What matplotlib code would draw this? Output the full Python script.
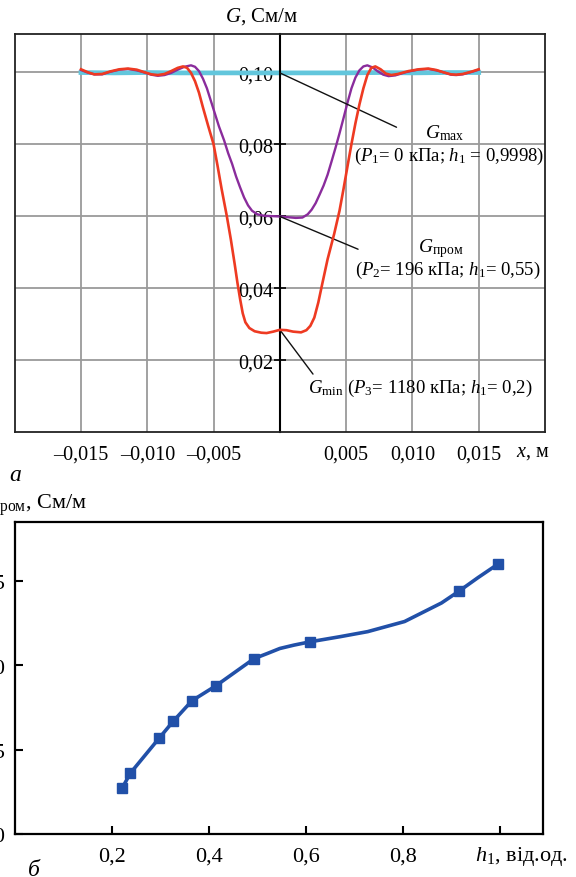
import numpy as np
import matplotlib
matplotlib.use("Agg")
import matplotlib.pyplot as plt
from matplotlib.lines import Line2D
from matplotlib.ticker import FuncFormatter

plt.rcParams['font.family'] = ['Liberation Serif', 'DejaVu Serif']
plt.rcParams['mathtext.fontset'] = 'custom'
plt.rcParams['mathtext.rm'] = 'Liberation Serif'
plt.rcParams['mathtext.it'] = 'Liberation Serif:italic'
plt.rcParams['mathtext.bf'] = 'Liberation Serif:bold'

# --- panel a: G(x) profiles ---
x_max = [-0.0150, -0.0125, -0.0100, -0.0075, -0.0050, -0.0025, 0.0,
         0.0025, 0.0050, 0.0075, 0.0100, 0.0125, 0.0150]
g_max = [0.0999, 0.0998, 0.0999, 0.0998, 0.0998, 0.0998, 0.0998,
         0.0998, 0.0998, 0.0999, 0.0998, 0.0999, 0.0999]

x_mid = [-0.0150, -0.0145, -0.0140, -0.0134, -0.0128, -0.0121, -0.01145, -0.0108,
         -0.0103, -0.0097, -0.0092, -0.0087, -0.0082, -0.0077, -0.0072, -0.0067,
         -0.0064, -0.0061, -0.0058, -0.0055, -0.0052, -0.0049, -0.0046, -0.0042,
         -0.0039, -0.0036, -0.0033, -0.0030, -0.0027, -0.0024, -0.0021, -0.0017,
         -0.0012, -0.0006, 0.0, 0.0006, 0.0012, 0.0017, 0.0021, 0.0024, 0.0027,
         0.0030, 0.0033, 0.0036, 0.0039, 0.0042, 0.0045, 0.0048, 0.0051, 0.0054,
         0.0057, 0.0060, 0.0063, 0.0066, 0.0070, 0.0074, 0.0078, 0.0082, 0.0087,
         0.0095, 0.0104, 0.0112, 0.0118, 0.0124, 0.0129, 0.0133, 0.0138, 0.0145, 0.0150]
g_mid = [0.1006, 0.0999, 0.0994, 0.0994, 0.1001, 0.1007, 0.1009, 0.1005,
         0.1000, 0.0993, 0.0990, 0.0992, 0.0998, 0.1007, 0.1015, 0.1019,
         0.1015, 0.1003, 0.0982, 0.0955, 0.0920, 0.0885, 0.0850, 0.0810,
         0.0775, 0.0745, 0.0710, 0.0680, 0.0652, 0.0630, 0.0615, 0.0605,
         0.0601, 0.0600, 0.0599, 0.0597, 0.0595, 0.0596, 0.0605, 0.0618, 0.0636,
         0.0660, 0.0685, 0.0715, 0.0752, 0.0790, 0.0830, 0.0872, 0.0915, 0.0955,
         0.0985, 0.1005, 0.1016, 0.1019, 0.1013, 0.1002, 0.0993, 0.0989, 0.0991,
         0.1000, 0.1007, 0.1009, 0.1005, 0.0999, 0.0993, 0.0992, 0.0994, 0.1001, 0.1007]

x_min = [-0.0150, -0.0145, -0.0140, -0.0134, -0.0128, -0.0121, -0.01145, -0.0108,
         -0.0103, -0.0097, -0.0092, -0.0087, -0.0082, -0.0077, -0.0073, -0.0070,
         -0.0067, -0.0064, -0.0061, -0.0058, -0.0054, -0.0050, -0.0047, -0.0044,
         -0.0040, -0.0037, -0.0034, -0.0032, -0.0030, -0.0028, -0.0026, -0.0023,
         -0.0019, -0.0014, -0.0010, -0.0005, 0.0, 0.0005, 0.0010, 0.0016, 0.0020,
         0.0023, 0.0026, 0.0029, 0.0032, 0.0036, 0.0041, 0.0045, 0.0048, 0.0051,
         0.0054, 0.0057, 0.0060, 0.0063, 0.0066, 0.0069, 0.0072, 0.0076, 0.0080,
         0.0084, 0.0089, 0.0097, 0.0105, 0.0112, 0.0118, 0.0124, 0.0129, 0.0133,
         0.0138, 0.0145, 0.0150]
g_min = [0.1008, 0.1000, 0.0994, 0.0995, 0.1002, 0.1008, 0.1010, 0.1007,
         0.1001, 0.0994, 0.0992, 0.0995, 0.1003, 0.1012, 0.1016, 0.1012,
         0.0998, 0.0975, 0.0943, 0.0902, 0.0850, 0.0800, 0.0740, 0.0677,
         0.0600, 0.0536, 0.0465, 0.0415, 0.0370, 0.0330, 0.0305, 0.0289,
         0.0280, 0.0276, 0.0275, 0.0279, 0.0284, 0.0283, 0.0279, 0.0277, 0.0283,
         0.0295, 0.0318, 0.0360, 0.0412, 0.0480, 0.0551, 0.0615, 0.0675, 0.0738,
         0.0800, 0.0858, 0.0910, 0.0955, 0.0992, 0.1012, 0.1016, 0.1008, 0.0996,
         0.0992, 0.0995, 0.1003, 0.1008, 0.1010, 0.1006, 0.0999, 0.0994, 0.0993,
         0.0995, 0.1002, 0.1008]

x_ticks_a = [-0.015, -0.010, -0.005, 0.005, 0.010, 0.015]
x_labels_a = ['–0,015', '–0,010', '–0,005', '0,005', '0,010', '0,015']
y_ticks_a = [0.02, 0.04, 0.06, 0.08, 0.10]

# --- panel б: G_пром(h1) ---
h_pts = [0.221, 0.238, 0.298, 0.327, 0.365, 0.415, 0.493, 0.609, 0.915, 0.995]
g_pts = [0.0527, 0.0536, 0.0557, 0.0567, 0.0579, 0.0588, 0.0604, 0.0614, 0.0644, 0.0660]
h_line = [0.221, 0.238, 0.298, 0.327, 0.365, 0.415, 0.493, 0.520, 0.546, 0.575, 0.609,
          0.670, 0.727, 0.803, 0.879, 0.915, 0.954, 0.995]
g_line = [0.0527, 0.0536, 0.0557, 0.0567, 0.0579, 0.0588, 0.0604, 0.0607, 0.0610, 0.0612,
          0.0614, 0.0617, 0.0620, 0.0626, 0.0637, 0.0644, 0.0652, 0.0660]
x_ticks_b = [0.2, 0.4, 0.6, 0.8, 1.0]
x_labels_b = ['0,2', '0,4', '0,6', '0,8', '']
y_ticks_b = [0.050, 0.055, 0.060, 0.065]

W, H = 576, 878
fig = plt.figure(figsize=(W / 100, H / 100), dpi=100)

def fx(px):
    return px / W

def fy(py):
    return 1 - py / H

# ---------------- top panel ----------------
ax = fig.add_axes([0.0255, 0.5068, 0.9207, 0.4533])
ax.set_xlim(-0.02, 0.02)
ax.set_ylim(0, 0.1106)

for xv in x_ticks_a:
    ax.axvline(xv, color='#9a9a9a', lw=1.3, zorder=1)
for yv in y_ticks_a:
    ax.axhline(yv, color='#9a9a9a', lw=1.3, zorder=1)

ax.plot(x_max, g_max, color='#62c6dc', lw=3.4, zorder=2)
ax.plot(x_mid, g_mid, color='#8a2c9c', lw=1.7, zorder=3)
ax.plot(x_min, g_min, color='#ee3a22', lw=1.9, zorder=4)

ax.spines['left'].set_position(('data', 0))
ax.spines['left'].set_linewidth(1.5)
for s in ['top', 'right', 'bottom']:
    ax.spines[s].set_linewidth(1.3)
    ax.spines[s].set_color('#222222')
ax.add_line(Line2D([0, 0], [0, 1], transform=ax.transAxes, color='#222222', lw=1.3,
                   clip_on=False))

ax.set_yticks(y_ticks_a)
ax.yaxis.set_major_formatter(FuncFormatter(lambda v, p: f'{v:.2f}'.replace('.', ',')))
ax.tick_params(axis='y', direction='inout', length=9, width=1.2, pad=0.5, labelsize=14.5)
ax.set_xticks(x_ticks_a)
ax.set_xticklabels(x_labels_a)
ax.tick_params(axis='x', length=0, pad=9, labelsize=14.5)

# leader lines for the three curves
ann = dict(arrowstyle='-', color='#111111', lw=1.0, shrinkA=0, shrinkB=0)
ax.annotate('', xy=(0, g_max[6]), xytext=(0.0088, 0.0847), arrowprops=ann)
ax.annotate('', xy=(0, g_mid[34]), xytext=(0.0059, 0.0508), arrowprops=ann)
ax.annotate('', xy=(0, g_min[36]), xytext=(0.0025, 0.0161), arrowprops=ann)

ax.text(0.0124, 0.0833, r'$G_{\mathrm{max}}$', ha='center', va='center', fontsize=14)
ax.text(0.01275, 0.0769, r'($P_1$= 0 кПа; $h_1$ = 0,9998)', ha='center', va='center',
        fontsize=13.5)
ax.text(0.0121, 0.0514, r'$G_{\mathrm{пром}}$', ha='center', va='center', fontsize=14)
ax.text(0.01263, 0.0453, r'($P_2$= 196 кПа; $h_1$= 0,55)', ha='center', va='center',
        fontsize=13.5)
ax.text(0.0106, 0.0125, r'$G_{\mathrm{min}}$ ($P_3$= 1180 кПа; $h_1$= 0,2)', ha='center',
        va='center', fontsize=13.5)

fig.text(fx(262), fy(17), r'$G$, См/м', ha='center', va='center', fontsize=15)
fig.text(fx(533), fy(453), r'$x$, м', ha='center', va='center', fontsize=14.5)
fig.text(fx(15), fy(476), 'a', style='italic', ha='center', va='center', fontsize=17)

# ---------------- bottom panel ----------------
bx = fig.add_axes([0.0255, 0.049, 0.9172, 0.3553])
bx.set_xlim(0, 1.088)
bx.set_ylim(0.050, 0.0685)
bx.plot(h_line, g_line, color='#2150a8', lw=2.6)
bx.plot(h_pts, g_pts, ls='none', marker='s', ms=7.5, color='#2150a8')
for s in bx.spines.values():
    s.set_linewidth(1.6)
bx.set_xticks(x_ticks_b)
bx.set_xticklabels(x_labels_b)
bx.set_yticks(y_ticks_b)
bx.yaxis.set_major_formatter(FuncFormatter(lambda v, p: f'{v:.3f}'.replace('.', ',')))
bx.tick_params(axis='both', direction='in', length=6, width=1.5, labelsize=16)
bx.tick_params(axis='x', pad=9)
bx.tick_params(axis='y', pad=7)

fig.text(fx(87), fy(505), r'$G_{\mathrm{пром}}$, См/м', ha='right', va='center', fontsize=16)
fig.text(fx(521), fy(857), r'$h_{\mathrm{1}}$, від.од.', ha='center', va='center', fontsize=16)
fig.text(fx(34), fy(871), 'б', style='italic', ha='center', va='center', fontsize=17)

fig.savefig('out.png', dpi=100)
